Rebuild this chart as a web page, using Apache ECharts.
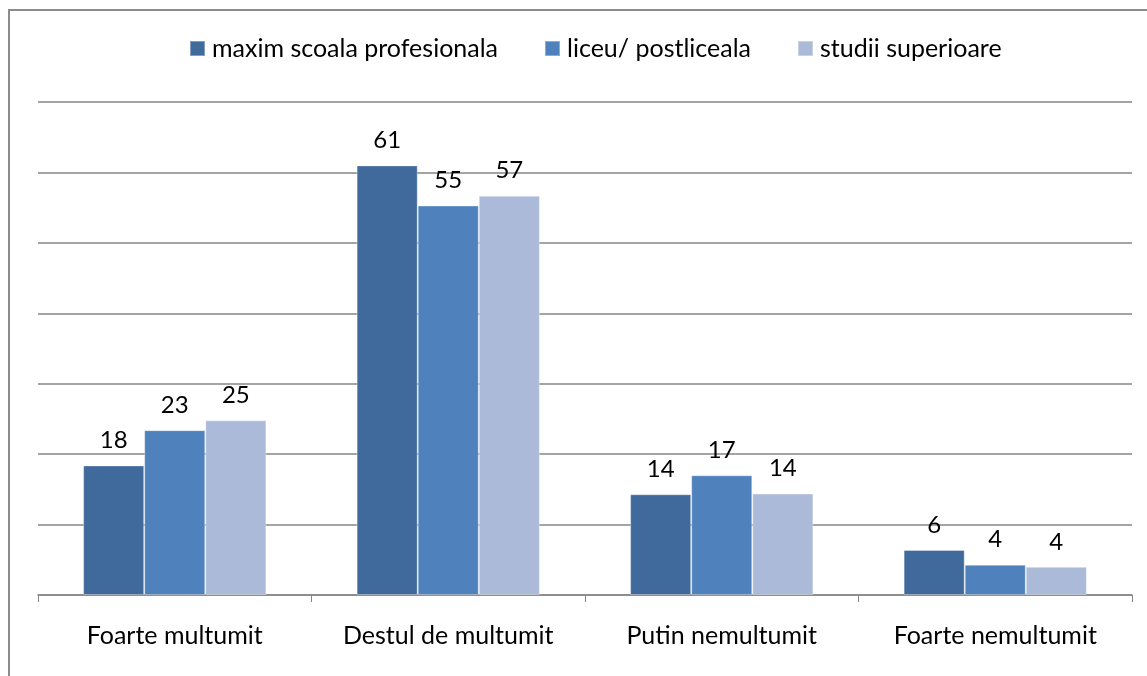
<!DOCTYPE html>
<html lang="ro">
<head>
	<meta charset="UTF-8">
	<title>Grad de multumire</title>
	<style>
		html, body { margin: 0; padding: 0; background: #fff; }
	</style>
</head>
<body>
	<div id="main" style="width: 1147px;height: 676px"></div>
	<script src="https://cdn.jsdelivr.net/npm/echarts@6/dist/echarts.min.js"></script>
	<script>
		// categorii si serii
		var categories = ['Foarte multumit', 'Destul de multumit', 'Putin nemultumit', 'Foarte nemultumit'];
		var seriesNames = ['maxim scoala profesionala', 'liceu/ postliceala', 'studii superioare'];
		var scoalaProf = [18.4, 61, 14.3, 6.4];
		var liceu = [23.4, 55.3, 17, 4.3];
		var superioare = [24.8, 56.7, 14.4, 4];
		var colors = ['#416a9c', '#4f81bd', '#aabad8'];

		var font = 'Lato, "Open Sans", sans-serif';
		var myChart = echarts.init(document.getElementById('main'));

		function bar(name, data, color) {
			return {
				name: name,
				type: 'bar',
				data: data,
				barGap: '0%',
				barCategoryGap: '33%',
				itemStyle: { color: color, borderColor: 'rgba(255,255,255,0.35)', borderWidth: 1 },
				label: {
					show: true,
					position: 'top',
					distance: 13,
					color: '#000',
					fontFamily: font,
					fontSize: 24,
					formatter: function (p) { return Math.round(p.value); }
				}
			};
		}

		myChart.setOption({
			animation: false,
			color: colors,
			graphic: [{
				type: 'rect',
				shape: { x: 9, y: 10, width: 1200, height: 800 },
				style: { fill: 'none', stroke: '#8c8c8c', lineWidth: 2 }
			}],
			legend: {
				top: 31,
				left: 184,
				itemWidth: 15,
				itemHeight: 15,
				itemGap: 46,
				icon: 'rect',
				textStyle: { fontFamily: font, fontSize: 25, color: '#000', padding: [0, 0, 0, 2] },
				data: seriesNames
			},
			grid: { left: 38, right: 15, top: 102, bottom: 81 },
			xAxis: {
				type: 'category',
				data: categories,
				axisLine: { lineStyle: { color: '#868686', width: 1.5 } },
				axisTick: { show: true, length: 7, lineStyle: { color: '#868686' } },
				axisLabel: { interval: 0, color: '#000', fontFamily: font, fontSize: 25, margin: 28 }
			},
			yAxis: {
				type: 'value',
				min: 0,
				max: 70,
				interval: 10,
				axisLabel: { show: false },
				axisLine: { show: false },
				axisTick: { show: false },
				splitLine: { lineStyle: { color: '#868686', width: 1.5 } }
			},
			series: [
				bar(seriesNames[0], scoalaProf, colors[0]),
				bar(seriesNames[1], liceu, colors[1]),
				bar(seriesNames[2], superioare, colors[2])
			]
		});
	</script>
</body>
</html>
